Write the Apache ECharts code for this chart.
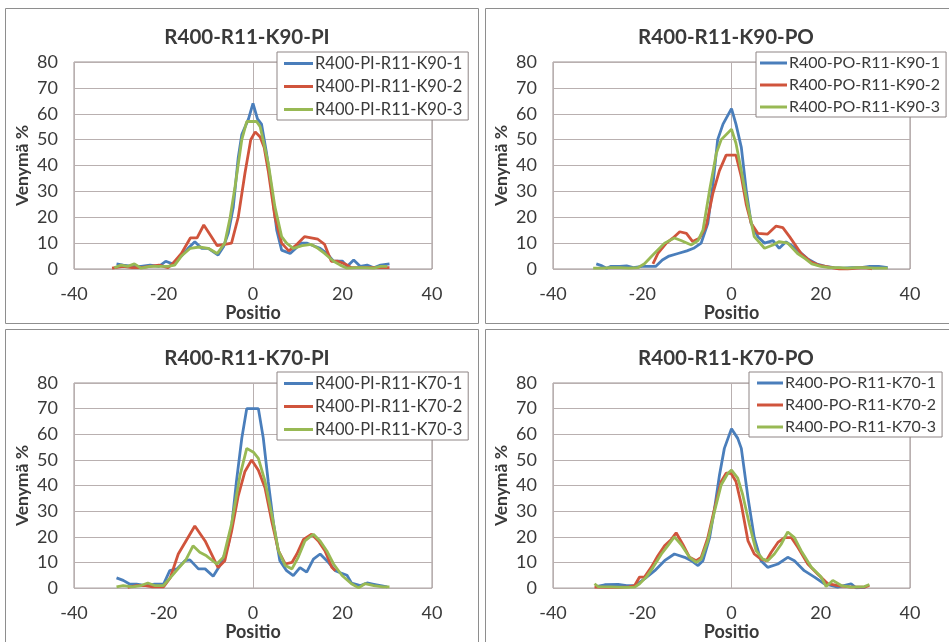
<!DOCTYPE html>
<html>
<head>
<meta charset="utf-8">
<script src="https://cdn.jsdelivr.net/npm/echarts@6/dist/echarts.min.js"></script>
<style>html,body{margin:0;padding:0;background:#fff}#c{width:949px;height:642px}</style>
</head>
<body>
<div id="c"></div>
<script>
// ---------- data ----------
const panelTitles = ['R400-R11-K90-PI', 'R400-R11-K90-PO', 'R400-R11-K70-PI', 'R400-R11-K70-PO'];
const seriesNames = [
  ['R400-PI-R11-K90-1', 'R400-PI-R11-K90-2', 'R400-PI-R11-K90-3'],
  ['R400-PO-R11-K90-1', 'R400-PO-R11-K90-2', 'R400-PO-R11-K90-3'],
  ['R400-PI-R11-K70-1', 'R400-PI-R11-K70-2', 'R400-PI-R11-K70-3'],
  ['R400-PO-R11-K70-1', 'R400-PO-R11-K70-2', 'R400-PO-R11-K70-3']
];
const xTicks = [-40, -20, 0, 20, 40];
const yTicks = [0, 10, 20, 30, 40, 50, 60, 70, 80];
const xAxisName = 'Positio';
const yAxisName = 'Venymä %';

// K90-PI  [position, strain]
const k90pi1 = [[-30.5,2],[-29,1.5],[-27,1],[-25,1],[-23,1.5],[-21,1],[-19.5,3],[-18,2],[-16,5],[-14.5,8],[-13,10.5],[-11.5,8],[-10,8],[-7.8,5.4],[-6.6,8.6],[-5.5,14],[-4.4,24],[-3.3,43],[-2.5,52],[-1,58],[0,64],[1,58],[1.9,56],[3,45],[4.2,30.5],[5.3,15],[6.4,7.3],[8.3,6],[10.8,10],[12,10],[13.5,9],[15,8],[16.5,6],[18,3],[20,3],[21,1],[22.5,3.5],[24,1],[25.5,1.5],[27,0.5],[28.5,1.5],[30.5,2]];
const k90pi2 = [[-31.5,0.3],[-29,1],[-27,0.5],[-25,0.5],[-23,1],[-21,1.5],[-19,0.5],[-18,2],[-16,6],[-14,12],[-12.5,12],[-11,17],[-9.5,13],[-8,9],[-6.3,9.5],[-4.8,10],[-3.3,20],[-1.8,37],[-0.5,50],[0.5,53],[1.6,51],[2.5,47],[3.4,38],[4.9,20],[6.4,10],[8,7],[9.5,9],[11.5,12.5],[13,12],[14.5,11.5],[16,9.5],[17.5,3],[19,3],[20.5,2],[22,0.5],[24,0.5],[26,0.5],[28,0.5],[30.5,0.5]];
const k90pi3 = [[-31,0.5],[-29.5,1.5],[-28,1],[-26.5,2],[-25,0.3],[-23,1],[-21,1],[-19,1],[-17.5,1.5],[-16,5],[-14,8],[-12,8.5],[-10,8],[-8,6],[-6.3,10],[-5.1,20],[-4,32],[-2.5,50],[-1.4,57],[0.8,57],[1.6,55],[3.4,41],[4.9,24],[6.4,12.5],[7.5,10],[9,8],[11,9],[13,9.5],[14.5,8],[16,6],[18,3],[19.5,1.5],[21,0.3],[23,0.5],[25,0.5],[27,0.3],[28.5,1],[30,1]];

// K90-PO
const k90po1 = [[-30.3,2],[-29,1.2],[-28,0.3],[-27,1],[-25,1],[-23.5,1.2],[-22,0.5],[-20,1],[-18,1],[-17,1],[-15.5,3.5],[-14,5],[-12,6],[-10,7],[-8.5,8],[-6.8,10],[-5.3,17.7],[-4.2,32],[-3.1,50],[-1.9,56],[0,62],[1,56],[2.2,47],[3.3,30.5],[4.4,17.7],[5.9,12.5],[7.4,10],[9.3,11],[10.7,8],[12.2,10.5],[13.5,9],[15,7],[17,4],[19,2],[21,1],[23,0.5],[25,0.3],[27,0.5],[29,0.5],[31,1],[33,1],[35,0.5]];
const k90po2 = [[-17.6,2],[-16.5,6],[-14.6,10],[-13.1,12],[-11.6,14.4],[-10.1,13.8],[-8.7,10.6],[-7.2,11.9],[-5.7,16.4],[-4.2,29],[-2.7,38],[-1.2,44],[1,44],[2.2,35.7],[3.3,25],[4.4,17.7],[5.9,13.8],[8.1,13.5],[10,16.6],[11.5,16],[13,12.5],[15.6,6],[17.8,2.8],[19.5,1.5],[21,1],[22.5,0.5],[24,0],[26,0],[28,0.3],[30,0.5],[31.5,0]];
const k90po3 = [[-31,0.3],[-29,0.3],[-27,0.5],[-25,0.5],[-23,0.3],[-21,0.5],[-19.5,2],[-17.3,6],[-15,10],[-12.8,12],[-11.3,11],[-9,9.3],[-7.5,11],[-6.4,15],[-4.9,30.5],[-3.4,44.7],[-2.3,50],[0,54],[1,48.6],[2.2,38],[3.7,24],[5.1,12.5],[7.4,8],[9.3,9.3],[10.7,10.6],[12.6,10],[14.8,6],[16.5,4],[18,2],[20,1],[22,0.5],[24,0.5],[26,0.3],[28,0.5],[30,0.5],[32,0.3],[35,0.3]];

// K70-PI
const k70pi1 = [[-30.5,4],[-29,3],[-27.5,1.5],[-26,1.5],[-24,1],[-22,1.5],[-20,1.5],[-18.6,6.8],[-17,7.5],[-15.2,10.7],[-14.1,11],[-12.2,7.5],[-10.7,7.5],[-8.9,4.6],[-7.4,8.8],[-6.6,12],[-5.5,17],[-4.8,23.6],[-3.7,41.6],[-2.5,58.5],[-1.4,70],[1.2,70],[2.3,58.5],[3.4,41.6],[4.6,25],[6,10.7],[7.5,6.8],[9,4.9],[10.5,8],[12,6.2],[13.5,11.3],[15,13.3],[16.5,10.7],[18.4,6.8],[19.5,6],[21,5],[22,2],[24,1],[25.5,2],[27,1.5],[28.5,1],[30,0.5]];
const k70pi2 = [[-28,0.3],[-26,1],[-24,1],[-22.5,0.5],[-20,0.5],[-18.5,4],[-16.7,13.3],[-13,24.2],[-10.7,18.4],[-7.8,8],[-6.3,10.7],[-4.8,22],[-3.3,36],[-1.8,45.5],[-0.3,50],[1.2,46],[2.7,39],[4.2,26],[5.7,14.5],[7.2,9.4],[8.7,10],[9.8,13.3],[11.3,19],[13.1,21],[14.6,18.4],[16.1,14.5],[17.6,8.1],[18.4,6.8]];
const k70pi3 = [[-30.5,0.5],[-29,1],[-27,0.5],[-25,1],[-23.5,2],[-22,1],[-20,1],[-18.5,4],[-17,7],[-15,11],[-13.4,16.5],[-11.9,14],[-10.4,12.6],[-8.1,9.4],[-6.6,12],[-4.8,25],[-2.9,44],[-1.4,54.5],[0.1,53],[1.2,50.6],[2.7,41.6],[4.2,28.7],[5.7,14.5],[7.2,8.8],[8.7,7.5],[10.1,12],[11.6,18.4],[13.5,21],[15,18.4],[16.5,14.5],[18,9.4],[19.9,4.9],[22,1.7],[23.6,0.1],[25,1.7],[27,1],[29,0.5],[30.5,0.5]];

// K70-PO
const k70po1 = [[-30.3,0.6],[-28.4,1.3],[-25.4,1.4],[-23.5,1],[-21.7,1],[-19.5,3.6],[-17.2,6.8],[-15,10.7],[-12.8,13.3],[-10.5,12],[-9,10.7],[-7.5,8.8],[-6.4,10.7],[-4.9,19.7],[-3.8,31],[-2.7,44],[-1.6,54.5],[0,62.2],[1.4,58.4],[2.2,54.5],[3.7,35.2],[5.1,19.7],[6.6,10.7],[8.1,8.1],[10.4,9.4],[12.6,12],[14.1,10.7],[16.3,6.8],[18.6,4.3],[20.8,1.7],[23.8,0.4],[26.8,1.7],[27.9,0.1],[30,0.3]];
const k70po2 = [[-30.7,0.4],[-28,0.3],[-25,0.3],[-23,0.5],[-21.7,1],[-20.6,4.3],[-19.5,4.3],[-18,8.1],[-16.5,12.6],[-15,16.5],[-13.5,19],[-12.4,21.6],[-10.9,17],[-9.4,12],[-7.9,10.7],[-6.8,12],[-5.3,19.7],[-3.8,31],[-2.3,41.6],[-1.2,44.8],[-0.1,44.8],[1,41.6],[2.2,32.6],[3.7,18.4],[5.1,13.3],[6.6,11.3],[7.8,10.7],[8.9,14],[10.4,17.8],[11.9,19.7],[13.4,19.7],[14.9,15.8],[17.1,9.4],[19.3,5.5],[21.6,1.7],[23.8,1],[26.8,0.4],[29.8,0.4],[30.9,1]];
const k70po3 = [[-30.7,1.7],[-29.9,0.6],[-27,0.5],[-24,0.3],[-21.7,0.4],[-20.6,1.7],[-19.1,4.3],[-17.6,8],[-15.7,13.3],[-14.3,16.5],[-12.8,20],[-11.3,17],[-9.4,12],[-7.9,10],[-6.8,11.3],[-5.3,18.4],[-3.8,30],[-2.3,40.3],[-0.8,44.8],[0,46],[1.4,42.9],[2.5,36.5],[4,24.9],[5.5,14.6],[7,11.3],[8.1,10.7],[9.6,13.3],[11.1,17],[12.6,21.9],[14.1,19.7],[15.6,14.6],[17.9,8.1],[20.1,4.3],[21.2,0.6],[22.7,3],[24.6,1],[26.8,0.4],[29.8,0.6],[30.9,1.4]];

const panelData = [
  [k90pi1, k90pi2, k90pi3],
  [k90po1, k90po2, k90po3],
  [k70pi1, k70pi2, k70pi3],
  [k70po1, k70po2, k70po3]
];

// ---------- layout / style ----------
const colors = ['#4a7ebb', '#d0543c', '#98b954'];
const FONT = 'Lato';
const TXT = '#3a3a3a';
const GRIDC = '#b9b0b0';
const grids = [
  {left: 74, top: 62, width: 358, height: 207},
  {left: 553, top: 62, width: 357, height: 207},
  {left: 74, top: 383, width: 358, height: 208},
  {left: 553, top: 383, width: 357, height: 208}
];
const titlePos = [{x: 242, y: 22}, {x: 721, y: 22}, {x: 242, y: 343}, {x: 721, y: 343}];
const legendLayout = [
  {x: 277, y: 52, padLeft: 7, itemW: 29, font: 16.5},
  {x: 756, y: 52, padLeft: 4, itemW: 27, font: 16},
  {x: 277, y: 372, padLeft: 7, itemW: 29, font: 16.5},
  {x: 749, y: 372, padLeft: 8, itemW: 26, font: 16}
];
const panels = [
  {x: 5, y: 8, w: 473, h: 315},
  {x: 485, y: 8, w: 475, h: 315},
  {x: 5, y: 329, w: 473, h: 330},
  {x: 485, y: 329, w: 475, h: 330}
];

const option = {
  animation: false,
  backgroundColor: '#fff',
  color: colors,
  graphic: panels.map(p => ({
    type: 'rect', z: -10, silent: true,
    shape: {x: p.x + 0.5, y: p.y + 0.5, width: p.w, height: p.h},
    style: {fill: '#fff', stroke: '#8e8e8e', lineWidth: 1}
  })),
  title: panelTitles.map((t, i) => ({
    text: t, left: titlePos[i].x, top: titlePos[i].y, textAlign: 'center',
    textStyle: {fontFamily: FONT, fontWeight: 'bold', fontSize: 20.5, color: TXT}
  })),
  legend: seriesNames.map((names, i) => ({
    data: names, orient: 'vertical', left: legendLayout[i].x, top: legendLayout[i].y,
    backgroundColor: '#fff', borderColor: '#8e8585', borderWidth: 1,
    padding: [3, 6, 2, legendLayout[i].padLeft], itemGap: 6, itemWidth: legendLayout[i].itemW, itemHeight: 3, icon: 'rect',
    textStyle: {fontFamily: FONT, fontSize: legendLayout[i].font, color: TXT, lineHeight: 16, padding: [0, 0, 0, -3]},
    z: 10
  })),
  grid: grids.map(g => Object.assign({show: true, borderColor: '#9a9090', borderWidth: 1, backgroundColor: 'transparent'}, g)),
  xAxis: [],
  yAxis: [],
  series: []
};

for (let i = 0; i < 4; i++) {
  option.xAxis.push({
    type: 'value', gridIndex: i, min: xTicks[0], max: xTicks[xTicks.length - 1], interval: xTicks[1] - xTicks[0],
    axisLine: {show: false}, axisTick: {show: false}, splitLine: {show: false},
    axisLabel: {fontFamily: FONT, fontSize: 18, color: TXT, margin: 16},
    name: xAxisName, nameLocation: 'middle', nameGap: 32,
    nameTextStyle: {fontFamily: FONT, fontWeight: 'bold', fontSize: 18, color: TXT}
  });
  // second hidden x axis only to draw the vertical line at position 0
  option.xAxis.push({
    type: 'value', gridIndex: i, min: -40, max: 40, interval: 40,
    axisLine: {show: false}, axisTick: {show: false}, axisLabel: {show: false},
    splitLine: {show: true, lineStyle: {color: GRIDC, width: 1}}
  });
  option.yAxis.push({
    type: 'value', gridIndex: i, min: yTicks[0], max: yTicks[yTicks.length - 1], interval: yTicks[1] - yTicks[0],
    axisLine: {show: false}, axisTick: {show: false},
    splitLine: {show: true, lineStyle: {color: GRIDC, width: 1}},
    axisLabel: {fontFamily: FONT, fontSize: 18, color: TXT, margin: 16},
    name: yAxisName, nameLocation: 'middle', nameGap: 43, nameRotate: 90,
    nameTextStyle: {fontFamily: FONT, fontWeight: 'bold', fontSize: 17.5, color: TXT}
  });
  for (let s = 0; s < 3; s++) {
    option.series.push({
      type: 'line', name: seriesNames[i][s], xAxisIndex: i * 2, yAxisIndex: i,
      data: panelData[i][s], showSymbol: false, symbol: 'none',
      lineStyle: {width: 2.8, color: colors[s]}, itemStyle: {color: colors[s]},
      z: 3 + s
    });
  }
}

const chart = echarts.init(document.getElementById('c'), null, {renderer: 'canvas'});
chart.setOption(option);
</script>
</body>
</html>
